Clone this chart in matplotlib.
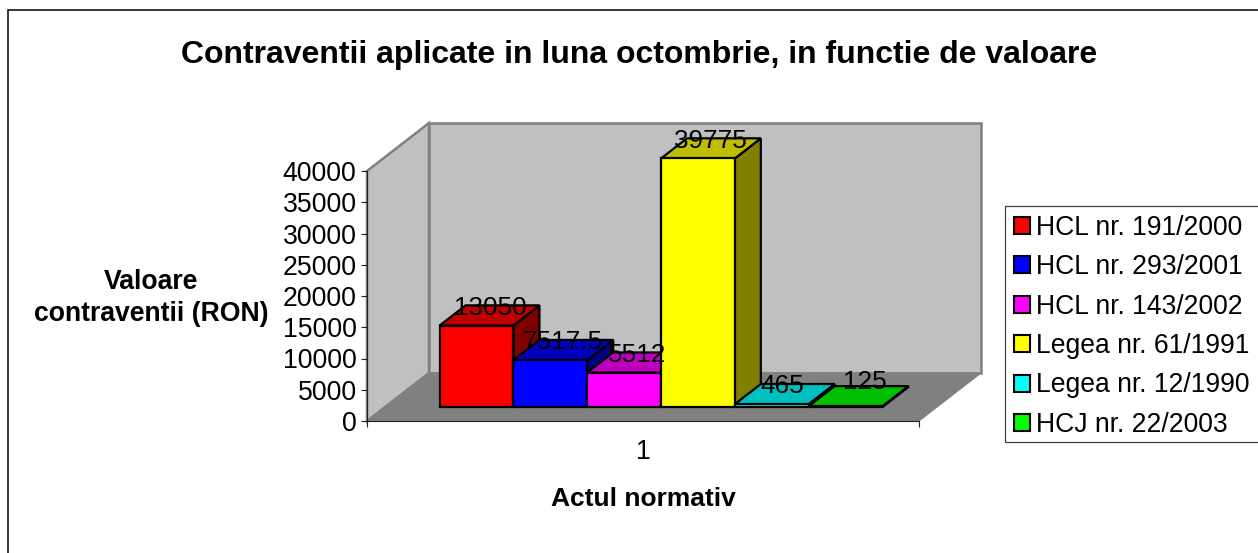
import matplotlib
matplotlib.use("Agg")
import matplotlib.pyplot as plt
from matplotlib.patches import Polygon, Patch, Rectangle

categories = ["HCL nr. 191/2000", "HCL nr. 293/2001", "HCL nr. 143/2002",
              "Legea nr. 61/1991", "Legea nr. 12/1990", "HCJ nr. 22/2003"]
values = [13050, 7517.5, 5512, 39775, 465, 125]
value_labels = ["13050", "7517.5", "5512", "39775", "465", "125"]
front_colors = ["#FF0000", "#0000FF", "#FF00FF", "#FFFF00", "#00FFFF", "#00FF00"]
top_colors = ["#BF0000", "#0000BF", "#BF00BF", "#BFBF00", "#00BFBF", "#00BF00"]
side_colors = ["#800000", "#000080", "#800080", "#808000", "#008080", "#008000"]
y_ticks = [0, 5000, 10000, 15000, 20000, 25000, 30000, 35000, 40000]

# small pixel nudges of the value labels, as placed by the original
label_dx = [1, -1, 0, 0, -2, 6]
label_dy = [0, 0, 0, 0, 1, 7]

W, H = 1258, 553
plt.rcParams["font.family"] = ["Liberation Sans", "DejaVu Sans"]
fig = plt.figure(figsize=(W / 100, H / 100), dpi=100, facecolor="white")
px = lambda x, y: (x / W, 1 - y / H)

# chart-area border (runs off the right and bottom of the picture)
fig.add_artist(Rectangle(px(7.5, 570), 1300 / W, 560 / H, transform=fig.transFigure,
                         fill=False, edgecolor="black", linewidth=1.1))

ax = fig.add_axes([367 / W, 1 - 421 / H, 552 / W, 250 / H])
ax.set_xlim(0.5, 1.5)
ax.set_ylim(0, 40000)
ax.patch.set_visible(False)

DX = 62 / 552
DY = 48 / 250 * 40000


def proj(x, y, d):
    return (x + d * DX, y + d * DY)


def poly(points, face, edge="none", lw=0.0, z=1.0):
    ax.add_patch(Polygon(points, closed=True, facecolor=face, edgecolor=edge,
                         linewidth=lw, clip_on=False, zorder=z, joinstyle="miter"))


wall_edge = "#808080"
poly([proj(0.5, 0, 1), proj(1.5, 0, 1), proj(1.5, 40000, 1), proj(0.5, 40000, 1)],
     "#C0C0C0", wall_edge, 1.8, 1)
poly([proj(0.5, 0, 0), proj(0.5, 0, 1), proj(0.5, 40000, 1), proj(0.5, 40000, 0)],
     "#C0C0C0", wall_edge, 1.8, 1.1)
poly([proj(0.5, 0, 0), proj(1.5, 0, 0), proj(1.5, 0, 1), proj(0.5, 0, 1)],
     "#808080", "#808080", 0.8, 1.2)

n = len(values)
bar_w = 73.8 / 552
group_left = 1 - n * bar_w / 2
d0, d1 = 0.29, 0.71
for i, v in enumerate(values):
    x0 = group_left + i * bar_w
    x1 = x0 + bar_w
    z = 2 + i * 0.1
    poly([proj(x1, 0, d0), proj(x1, 0, d1), proj(x1, v, d1), proj(x1, v, d0)],
         side_colors[i], "black", 1.6, z)
    poly([proj(x0, v, d0), proj(x1, v, d0), proj(x1, v, d1), proj(x0, v, d1)],
         top_colors[i], "black", 1.6, z)
    poly([proj(x0, 0, d0), proj(x1, 0, d0), proj(x1, v, d0), proj(x0, v, d0)],
         front_colors[i], "black", 1.6, z)

for i, v in enumerate(values):
    xc = group_left + (i + 0.5) * bar_w
    ax.annotate(value_labels[i], xy=(proj(xc, v, 0.5)[0], proj(xc, v, d1)[1]),
                xytext=(label_dx[i] * 0.72, label_dy[i] * 0.72), textcoords="offset points",
                fontsize=18.8, ha="center", va="center_baseline", color="black",
                zorder=5, annotation_clip=False)

for s in ("top", "right"):
    ax.spines[s].set_visible(False)
for s in ("left", "bottom"):
    ax.spines[s].set_linewidth(0.8)
    ax.spines[s].set_color("#202020")
    ax.spines[s].set_zorder(3)

ax.set_yticks(y_ticks)
ax.tick_params(axis="y", length=4.5, width=0.8, pad=3, labelsize=19.2, color="#202020")
ax.set_xticks([0.5, 1.5])
ax.set_xticklabels(["", ""])
ax.tick_params(axis="x", which="major", length=4.5, width=0.8, color="#202020")
ax.set_xticks([1.0], minor=True)
ax.set_xticklabels(["1"], minor=True)
ax.tick_params(axis="x", which="minor", length=0, pad=13, labelsize=19.2)

fig.text(*px(639, 55), "Contraventii aplicate in luna octombrie, in functie de valoare",
         fontsize=23, fontweight="bold", ha="center", va="center")
fig.text(*px(151, 298), "Valoare\ncontraventii (RON)", fontsize=19.2, fontweight="bold",
         ha="center", va="center", linespacing=1.3)
fig.text(*px(643, 499), "Actul normativ", fontsize=19, fontweight="bold",
         ha="center", va="center")

# legend frame runs off the right edge of the picture
fig.add_artist(Rectangle(px(1005, 442), 300 / W, 236 / H, transform=fig.transFigure,
                         facecolor="white", edgecolor="#404040", linewidth=0.9))
handles = [Patch(facecolor=c, edgecolor="black", linewidth=1.5) for c in front_colors]
leg = fig.legend(handles, categories, loc="upper left",
                 bbox_to_anchor=px(1005, 206), bbox_transform=fig.transFigure,
                 fontsize=19.1, frameon=False, borderaxespad=0, borderpad=0.33,
                 handlelength=0.6, handleheight=0.6, handletextpad=0.22,
                 labelspacing=0.506)

fig.savefig("out.png", dpi=100, facecolor="white")
